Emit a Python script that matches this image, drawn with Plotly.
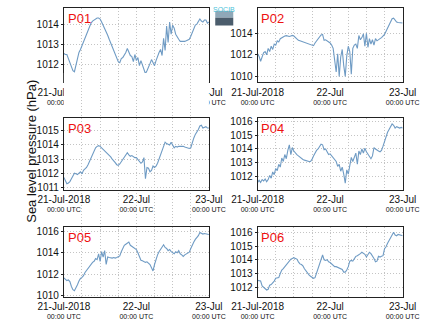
import pandas as pd
import plotly.graph_objects as go

# 30-minute samples from 21-Jul-2018 00:00 UTC to 23-Jul-2018 00:00 UTC
p01 = [1012.55,1012.5,1012.5,1012.3,1012.05,1011.9,1011.7,1011.65,1011.95,1012.4,
       1012.6,1012.75,1012.95,1013.1,1013.3,1013.5,1013.65,1013.85,1014.05,1014.15,
       1014.2,1014.22,1014.3,1014.3,1014.25,1014.1,1013.95,1013.8,1013.6,1013.45,
       1013.25,1013.05,1012.85,1012.7,1012.55,1012.35,1012.15,1012.1,1012.3,1012.35,
       1012.45,1012.6,1012.8,1012.6,1012.45,1012.4,1012.15,1012.5,1012.2,1012.35,
       1011.95,1012.2,1012.0,1011.75,1011.55,1011.7,1011.85,1012.05,1012.25,1012.1,
       1011.95,1012.2,1012.45,1012.6,1012.75,1012.45,1013.3,1012.7,1013.9,1013.1,
       1014.1,1013.5,1013.95,1013.8,1013.5,1013.35,1013.25,1013.15,1013.15,1013.12,
       1013.15,1013.18,1013.2,1013.25,1013.4,1013.6,1013.8,1013.95,1014.0,1014.1,
       1014.25,1014.15,1014.1,1014.2,1014.2,1014.05,1014.1]
p02 = [1012.1,1011.85,1011.4,1011.9,1012.2,1012.3,1012.0,1012.6,1012.3,1012.8,
       1012.5,1013.0,1012.9,1013.3,1013.2,1013.5,1013.6,1013.7,1013.75,1013.78,
       1013.75,1013.7,1013.75,1013.8,1013.75,1013.6,1013.45,1013.35,1013.3,1013.25,
       1013.2,1013.15,1013.1,1013.05,1013.0,1012.95,1012.9,1012.85,1013.1,1013.3,
       1013.5,1013.65,1013.85,1013.9,1013.35,1013.4,1013.3,1013.25,1013.1,1012.9,
       1012.6,1011.5,1010.4,1012.1,1010.0,1011.8,1012.5,1011.0,1010.0,1011.9,
       1012.8,1012.3,1010.2,1012.6,1012.9,1013.0,1012.6,1013.8,1013.4,1013.6,
       1013.95,1012.8,1014.0,1012.7,1013.5,1013.0,1013.4,1012.9,1013.5,1013.3,
       1013.45,1013.5,1013.6,1013.75,1013.9,1014.2,1014.5,1014.8,1015.1,1015.35,
       1015.4,1015.2,1015.05,1015.0,1015.0,1014.95,1014.95]
p03 = [1011.7,1011.45,1011.25,1011.3,1011.4,1011.6,1011.8,1012.0,1011.95,1011.9,
       1012.0,1012.1,1011.95,1012.2,1012.3,1012.4,1012.6,1012.85,1013.15,1013.4,
       1013.6,1013.8,1013.9,1013.95,1013.9,1013.8,1013.7,1013.6,1013.5,1013.4,
       1013.3,1013.15,1013.0,1012.9,1012.75,1012.6,1012.55,1012.65,1012.8,1013.0,
       1013.15,1013.3,1013.45,1013.3,1013.2,1013.25,1013.15,1013.1,1013.1,1012.95,
       1012.85,1012.7,1012.8,1013.1,1011.6,1012.4,1012.35,1012.1,1012.2,1012.5,
       1012.4,1012.5,1012.7,1013.0,1013.3,1013.5,1013.8,1014.2,1014.1,1014.05,
       1014.0,1014.2,1013.95,1013.8,1013.9,1013.85,1013.9,1013.9,1013.95,1013.9,
       1013.85,1013.8,1013.8,1013.75,1013.8,1014.2,1014.5,1014.75,1014.9,1015.1,
       1015.35,1015.4,1015.2,1015.25,1015.3,1015.2,1015.2]
p04 = [1011.6,1011.75,1011.6,1011.8,1011.7,1011.85,1011.65,1011.8,1012.1,1011.9,
       1012.35,1012.15,1012.6,1012.45,1012.9,1012.7,1013.35,1013.1,1013.6,1013.3,
       1013.9,1014.3,1013.6,1014.1,1013.85,1013.7,1013.6,1013.5,1013.4,1013.3,
       1013.25,1013.2,1013.15,1013.1,1013.1,1013.1,1013.25,1013.5,1013.75,1013.9,
       1014.0,1014.2,1014.35,1014.3,1013.95,1014.0,1013.8,1013.6,1013.65,1013.5,
       1013.4,1013.25,1013.1,1012.75,1012.9,1012.4,1012.7,1012.2,1011.55,1012.5,
       1012.2,1012.8,1013.4,1013.1,1013.5,1013.7,1012.9,1013.85,1013.6,1014.0,
       1013.7,1014.05,1013.8,1013.6,1013.5,1013.3,1013.5,1014.1,1014.0,1013.9,
       1013.85,1013.8,1013.9,1014.2,1014.6,1015.0,1015.2,1015.4,1015.6,1015.8,
       1015.7,1015.5,1015.6,1015.55,1015.5,1015.55,1015.5]
p05 = [1011.65,1011.5,1011.4,1011.45,1011.3,1010.85,1010.55,1010.45,1010.7,1011.0,
       1011.35,1011.6,1011.7,1011.85,1012.15,1012.35,1012.5,1012.75,1012.9,1013.1,
       1013.2,1013.45,1013.35,1013.9,1013.2,1014.1,1013.6,1014.2,1012.9,1013.6,
       1013.55,1013.5,1013.5,1013.55,1013.5,1013.55,1013.6,1013.7,1014.1,1014.5,
       1014.7,1014.8,1014.95,1015.0,1014.7,1014.6,1014.55,1014.4,1014.3,1014.0,
       1013.6,1013.3,1013.25,1013.2,1013.1,1013.15,1013.0,1012.9,1012.6,1012.3,
       1012.9,1013.4,1013.8,1014.1,1014.3,1014.5,1014.75,1014.5,1014.4,1014.2,
       1014.3,1014.1,1014.0,1013.9,1014.1,1014.0,1014.2,1013.9,1013.8,1013.65,
       1013.8,1013.9,1014.0,1014.05,1014.4,1014.75,1015.0,1015.25,1015.4,1015.6,
       1015.9,1015.8,1015.75,1015.8,1015.75,1015.7,1015.7]
p06 = [1012.5,1012.5,1012.45,1012.1,1012.0,1011.95,1011.8,1011.85,1012.15,1012.2,
       1012.3,1012.45,1012.65,1012.7,1012.7,1013.0,1013.25,1013.35,1013.5,1013.65,
       1013.8,1013.95,1014.05,1014.1,1014.15,1014.1,1014.05,1013.85,1013.7,1013.65,
       1013.55,1013.35,1013.2,1013.0,1012.9,1012.8,1012.75,1012.65,1012.7,1013.05,
       1013.3,1013.6,1014.0,1014.35,1014.0,1013.95,1014.0,1013.85,1013.8,1013.7,
       1013.6,1013.5,1013.5,1013.45,1013.4,1013.35,1013.3,1013.1,1013.1,1013.25,
       1013.5,1013.9,1013.95,1013.9,1014.1,1014.25,1014.3,1014.35,1014.45,1014.55,
       1014.5,1014.4,1014.2,1014.4,1014.55,1014.45,1014.3,1014.1,1013.85,1013.9,
       1014.25,1014.2,1014.25,1014.3,1014.8,1014.95,1015.2,1015.4,1015.55,1015.8,
       1016.0,1015.8,1015.75,1015.85,1015.8,1015.75,1015.75]

names = ["P01", "P02", "P03", "P04", "P05", "P06"]
series = [p01, p02, p03, p04, p05, p06]
y_ranges = [[1011.13, 1014.8], [1009.45, 1016.36], [1010.81, 1015.88],
            [1011.06, 1016.19], [1009.9, 1016.4], [1011.32, 1016.38]]
y_ticks = [[1012, 1013, 1014], [1010, 1012, 1014], [1011, 1012, 1013, 1014, 1015],
           [1012, 1013, 1014, 1015, 1016], [1010, 1012, 1014, 1016],
           [1012, 1013, 1014, 1015, 1016]]
x_tick_dates = ["2018-07-21", "2018-07-22", "2018-07-23"]
x_tick_labels = ["21-Jul-2018", "22-Jul", "23-Jul"]
x_tick_sub = "00:00 UTC"
y_title = "Sea level pressure (hPa)"

W, H = 435, 327
col_x = [(42, 203), (257, 418)]
row_y = [(5, 81), (118, 191), (229, 300)]
GRID = "#c4c4c4"
DASH = "1px,2px"

fig = go.Figure()
layout = dict(width=W, height=H, margin=dict(l=0, r=0, t=0, b=0),
              paper_bgcolor="white", plot_bgcolor="white", showlegend=False,
              font=dict(family="Liberation Sans, Arial, sans-serif", size=10, color="#111"))
ticktext = [f"<span style='font-size:10px'>{t}</span><br>{x_tick_sub}" for t in x_tick_labels]
annotations = []
for i, (name, vals) in enumerate(zip(names, series)):
    r, c = divmod(i, 2)
    n = i + 1
    xs = pd.date_range("2018-07-21 00:00", periods=len(vals), freq="30min")
    xa = "x" if n == 1 else f"x{n}"
    ya = "y" if n == 1 else f"y{n}"
    fig.add_trace(go.Scatter(x=xs, y=vals, mode="lines", xaxis=xa, yaxis=ya,
                             line=dict(color="#6f9bc4", width=1.1)))
    x0, x1 = col_x[c]
    t0, t1 = row_y[r]
    layout["xaxis" if n == 1 else f"xaxis{n}"] = dict(
        domain=[x0 / W, x1 / W], anchor=ya, type="date",
        range=["2018-07-21 00:00", "2018-07-23 00:00"],
        tickmode="array", tickvals=x_tick_dates, ticktext=ticktext,
        showline=True, mirror=True, linecolor="#222", linewidth=1,
        showgrid=True, gridcolor=GRID, griddash=DASH, gridwidth=1,
        minor=dict(dtick=6 * 3600 * 1000, tick0="2018-07-21", showgrid=True,
                   gridcolor=GRID, griddash=DASH, gridwidth=1),
        ticks="", ticklen=0, ticklabelstandoff=4,
        tickfont=dict(size=7, color="#111"), zeroline=False)
    layout["yaxis" if n == 1 else f"yaxis{n}"] = dict(
        domain=[1 - t1 / H, 1 - t0 / H], anchor=xa, range=y_ranges[i],
        tickmode="array", tickvals=y_ticks[i],
        showline=True, mirror=True, linecolor="#222", linewidth=1,
        showgrid=True, gridcolor=GRID, griddash=DASH, gridwidth=1,
        ticks="outside", ticklen=2, tickcolor="#222",
        tickfont=dict(size=10, color="#111"), zeroline=False)
    annotations.append(dict(text=name, xref="paper", yref="paper",
                            x=(x0 + 2) / W, y=1 - (t0 + 1) / H,
                            xanchor="left", yanchor="top", showarrow=False,
                            font=dict(size=13, color="#ee1111")))

# invisible helper axis that only carries the shared y-axis title
fig.add_trace(go.Scatter(x=[], y=[], xaxis="x", yaxis="y7", showlegend=False,
                         hoverinfo="skip"))
layout["yaxis7"] = dict(domain=[1 - 231.5 / H, 1 - 71.5 / H], anchor="free", position=0,
                        side="right", showline=False, showgrid=False, zeroline=False,
                        showticklabels=False, ticks="",
                        title=dict(text=y_title, standoff=0,
                                   font=dict(size=13, color="#111")))

annotations.append(dict(text="SOCIB", xref="paper", yref="paper",
                        x=220 / W, y=1 - 1 / H, xanchor="center", yanchor="top",
                        showarrow=False, font=dict(size=7, color="#4cc3d9")))
layout["annotations"] = annotations
layout["shapes"] = [
    dict(type="rect", xref="paper", yref="paper", x0=210 / W, x1=230 / W,
         y0=1 - 15 / H, y1=1 - 8 / H, fillcolor="#8fa8b8", line=dict(width=0)),
    dict(type="rect", xref="paper", yref="paper", x0=210 / W, x1=230 / W,
         y0=1 - 23 / H, y1=1 - 15 / H, fillcolor="#4b5d6c", line=dict(width=0)),
]
fig.update_layout(**layout)
fig.write_html("out.html")
